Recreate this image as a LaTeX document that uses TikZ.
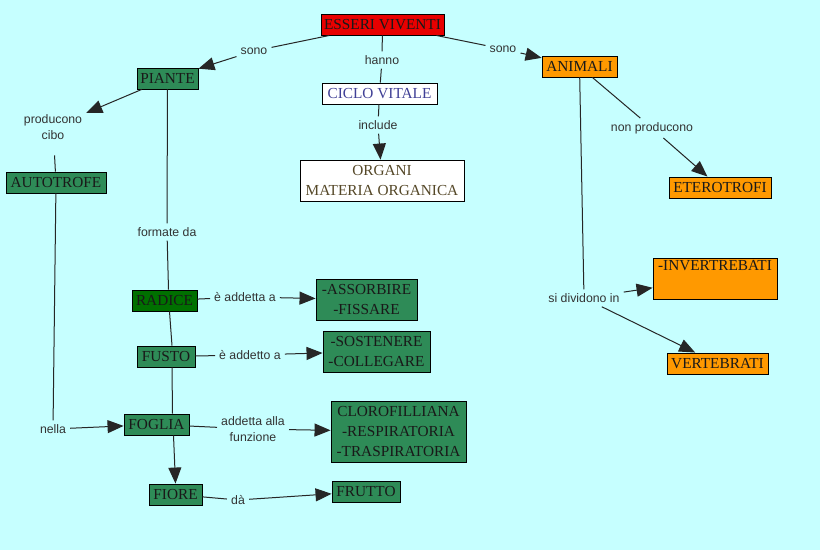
\documentclass[tikz,border=0pt]{standalone}
\usepackage{fontspec}
\setmainfont{Liberation Serif}
\newfontfamily\labelfont{Liberation Sans}
\usetikzlibrary{positioning, arrows.meta}
\definecolor{mappa_sfondo}{RGB}{198,255,255}
\definecolor{mappa_verde}{RGB}{46,139,87}
\definecolor{mappa_verdescuro}{RGB}{0,112,0}
\definecolor{mappa_rosso}{RGB}{232,0,0}
\definecolor{mappa_arancio}{RGB}{255,153,0}
\definecolor{mappa_blu}{RGB}{64,64,150}
\definecolor{mappa_bruno}{RGB}{85,72,40}
\tikzstyle{concetto} = [draw=black, line width=0.9pt, inner sep=1pt, font=\fontsize{15.3}{20}\selectfont, text=black!90, align=center]
\tikzstyle{verde} = [concetto, fill=mappa_verde]
\tikzstyle{arancio} = [concetto, fill=mappa_arancio]
\tikzstyle{bianco} = [concetto, fill=white]
\tikzstyle{frase} = [font=\labelfont\fontsize{12.3}{15.5}\selectfont, text=black!80, inner sep=4pt, align=center]
\tikzstyle{link} = [line width=1pt, draw=black!85]
\tikzstyle{arrow} = [link, -{Triangle[length=16pt,width=13pt]}]

\begin{document}
\begin{tikzpicture}[x=1pt, y=-1pt]
        \fill[mappa_sfondo] (0,0) rectangle (820,550);
        % concetti
        \node (esseri) [concetto, fill=mappa_rosso, minimum width=123, minimum height=21] at (382.5,24.5) {ESSERI VIVENTI};
        \node (piante) [verde, minimum width=61, minimum height=21] at (167.5,78.5) {PIANTE};
        \node (ciclo) [bianco, text=mappa_blu, minimum width=115, minimum height=21] at (379.5,93.5) {CICLO VITALE};
        \node (organi) [bianco, text=mappa_bruno, minimum width=164, minimum height=41] at (382,180.5) {ORGANI\\MATERIA ORGANICA};
        \node (animali) [arancio, minimum width=75, minimum height=21] at (579.5,66.5) {ANIMALI};
        \node (eterotrofi) [arancio, minimum width=102, minimum height=21] at (720,187.5) {ETEROTROFI};
        \node (invertebrati) [arancio, align=left, minimum width=124, minimum height=41] at (715,278.5) {-INVERTREBATI\\ \strut};
        \node (vertebrati) [arancio, minimum width=101, minimum height=21] at (717.5,363.5) {VERTEBRATI};
        \node (autotrofe) [verde, minimum width=100, minimum height=21] at (56,182.5) {AUTOTROFE};
        \node (radice) [concetto, fill=mappa_verdescuro, minimum width=65, minimum height=21] at (164.5,300.5) {RADICE};
        \node (assorbire) [verde, minimum width=101, minimum height=41] at (366.5,299.5) {-ASSORBIRE\\-FISSARE};
        \node (fusto) [verde, minimum width=58, minimum height=21] at (166,356.5) {FUSTO};
        \node (sostenere) [verde, minimum width=107, minimum height=41] at (376.5,351.5) {-SOSTENERE\\-COLLEGARE};
        \node (foglia) [verde, minimum width=65, minimum height=21] at (156.5,424.5) {FOGLIA};
        \node (funzioni) [verde, minimum width=135, minimum height=61] at (398.5,431.5) {CLOROFILLIANA\\-RESPIRATORIA\\-TRASPIRATORIA};
        \node (fiore) [verde, minimum width=53, minimum height=21] at (175.5,494.5) {FIORE};
        \node (frutto) [verde, minimum width=68, minimum height=21] at (366,491.5) {FRUTTO};
        % frasi di collegamento
        \node (sono_p) [frase] at (254,51) {sono};
        \node (hanno) [frase] at (382,60) {hanno};
        \node (include) [frase] at (378,125) {include};
        \node (sono_a) [frase] at (503,49) {sono};
        \node (non_prod) [frase] at (652,128) {non producono};
        \node (si_div) [frase] at (584,298) {si dividono in};
        \node (producono) [frase] at (53,127) {producono\\cibo};
        \node (formate) [frase] at (167,232) {formate da};
        \node (nella) [frase] at (53,429) {nella};
        \node (addetta_r) [frase] at (245,297) {è addetta a};
        \node (addetto_f) [frase] at (250,355) {è addetto a};
        \node (addetta_fo) [frase] at (253,429) {addetta alla\\funzione};
        \node (da) [frase] at (238,500) {dà};
        % collegamenti
        \draw [link] (esseri) -- (sono_p);
        \draw [arrow] (sono_p) -- (piante);
        \draw [link] (esseri) -- (hanno);
        \draw [link] (hanno) -- (ciclo);
        \draw [link] (ciclo) -- (include);
        \draw [arrow] (include) -- (organi);
        \draw [link] (esseri) -- (sono_a);
        \draw [arrow] (sono_a) -- (animali);
        \draw [link] (animali) -- (non_prod);
        \draw [arrow] (non_prod) -- (eterotrofi);
        \draw [link] (animali) -- (si_div);
        \draw [arrow] (si_div) -- (invertebrati);
        \draw [arrow] (si_div) -- (vertebrati);
        \draw [arrow] (piante) -- (producono);
        \draw [link, shorten <=12pt] (producono) -- (autotrofe);
        \draw [link] (autotrofe) -- (nella);
        \draw [arrow] (nella) -- (foglia);
        \draw [link] (piante) -- (formate);
        \draw [link] (formate) -- ([xshift=4pt]radice.north);
        \draw [link] (radice) -- (addetta_r);
        \draw [arrow] (addetta_r) -- (assorbire);
        \draw [link] ([xshift=5pt]radice.south) -- ([xshift=6pt]fusto.north);
        \draw [link] (fusto) -- (addetto_f);
        \draw [arrow] (addetto_f) -- (sostenere);
        \draw [link] ([xshift=6pt]fusto.south) -- ([xshift=16pt]foglia.north);
        \draw [link] (foglia) -- (addetta_fo);
        \draw [arrow] (addetta_fo) -- (funzioni);
        \draw [arrow] ([xshift=17pt]foglia.south) -- (fiore.north);
        \draw [link] (fiore) -- (da);
        \draw [arrow] (da) -- (frutto);
    \end{tikzpicture}
\end{document}
